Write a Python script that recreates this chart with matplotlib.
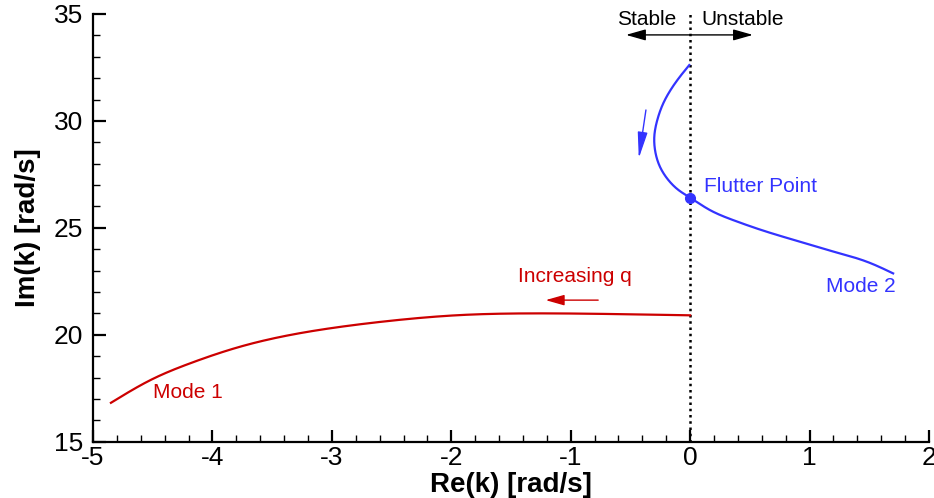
import matplotlib
matplotlib.use("Agg")
import matplotlib.pyplot as plt
from matplotlib.ticker import MultipleLocator
import numpy as np

# Mode 1 (red) root locus
mode1_re = [-4.85, -4.52, -4.19, -3.77, -3.35, -2.93, -2.55, -1.93, -1.34, -0.65, 0.0]
mode1_im = [16.82, 17.88, 18.66, 19.44, 19.99, 20.37, 20.63, 20.92, 21.00, 20.97, 20.91]

# Mode 2 (blue) root locus
mode2_re = [-0.007, -0.085, -0.155, -0.225, -0.275, -0.300, -0.294, -0.253, -0.183, -0.098,
            0.0, 0.166, 0.361, 0.64, 0.92, 1.20, 1.478, 1.70]
mode2_im = [32.61, 32.07, 31.52, 30.82, 30.04, 29.26, 28.64, 27.86, 27.24, 26.77,
            26.41, 25.83, 25.36, 24.82, 24.35, 23.89, 23.42, 22.87]

flutter_re, flutter_im = 0.0, 26.41

red = "#CC0000"
blue = "#3333FF"
plt.rcParams["font.family"] = ["Liberation Sans", "DejaVu Sans"]
plt.rcParams["axes.unicode_minus"] = False

fig = plt.figure(figsize=(9.34, 4.98), dpi=100)
ax = fig.add_axes([0.0996, 0.113, 0.895, 0.859])


def natural_spline(t, v, tt):
    t = np.asarray(t, float); v = np.asarray(v, float)
    n = len(t)
    h = np.diff(t)
    A = np.zeros((n, n)); b = np.zeros(n)
    A[0, 0] = 1; A[-1, -1] = 1
    for i in range(1, n - 1):
        A[i, i - 1] = h[i - 1]
        A[i, i] = 2 * (h[i - 1] + h[i])
        A[i, i + 1] = h[i]
        b[i] = 3 * ((v[i + 1] - v[i]) / h[i] - (v[i] - v[i - 1]) / h[i - 1])
    c = np.linalg.solve(A, b)
    out = np.empty_like(tt)
    for k, s in enumerate(tt):
        i = min(max(np.searchsorted(t, s, side="right") - 1, 0), n - 2)
        bi = (v[i + 1] - v[i]) / h[i] - h[i] * (2 * c[i] + c[i + 1]) / 3
        di = (c[i + 1] - c[i]) / (3 * h[i])
        d = s - t[i]
        out[k] = v[i] + bi * d + c[i] * d ** 2 + di * d ** 3
    return out


def smooth(xs, ys, n=400):
    xs = np.asarray(xs, float); ys = np.asarray(ys, float)
    d = np.sqrt((np.diff(xs) * 119.4) ** 2 + (np.diff(ys) * 21.4) ** 2)
    t = np.concatenate([[0], np.cumsum(d)])
    tt = np.linspace(0, t[-1], n)
    return natural_spline(t, xs, tt), natural_spline(t, ys, tt)


x1 = np.linspace(mode1_re[0], mode1_re[-1], 400)
y1 = natural_spline(mode1_re, mode1_im, x1)
x2, y2 = smooth(mode2_re, mode2_im)
ax.plot(x1, y1, color=red, lw=1.6)
ax.plot(x2, y2, color=blue, lw=1.6)
ax.plot([flutter_re], [flutter_im], "o", color=blue, ms=7)

ax.plot([0, 0], [15, 35], color="black", lw=1.8, ls=(0, (1, 1.5)), zorder=0)

ax.set_xlim(-5, 2)
ax.set_ylim(15, 35)
ax.xaxis.set_major_locator(MultipleLocator(1))
ax.xaxis.set_minor_locator(MultipleLocator(0.2))
ax.yaxis.set_major_locator(MultipleLocator(5))
ax.yaxis.set_minor_locator(MultipleLocator(1))
for s in ["top", "right"]:
    ax.spines[s].set_visible(False)
for s in ["left", "bottom"]:
    ax.spines[s].set_linewidth(1.6)
ax.tick_params(which="major", direction="in", length=9, width=1.6, labelsize=19)
ax.tick_params(which="minor", direction="in", length=5, width=1.0)
ax.tick_params(axis="x", which="major", pad=3)
ax.tick_params(axis="y", which="major", pad=7)

ax.set_xlabel("Re(k) [rad/s]", fontsize=20, fontweight="bold", va="top")
ax.set_ylabel("Im(k) [rad/s]", fontsize=20, fontweight="bold")
ax.xaxis.set_label_coords(0.5, -0.071)
ax.yaxis.set_label_coords(-0.062, 0.5)

ax.text(0.12, 26.95, "Flutter Point", color=blue, fontsize=15, ha="left", va="center")
ax.text(1.725, 22.25, "Mode 2", color=blue, fontsize=15, ha="right", va="center")
ax.text(-4.50, 17.29, "Mode 1", color=red, fontsize=15, ha="left", va="center")
ax.text(-1.44, 22.71, "Increasing q", color=red, fontsize=15, ha="left", va="center")
ax.text(-0.61, 34.49, "Stable", color="black", fontsize=15, ha="left", va="baseline")
ax.text(0.097, 34.49, "Unstable", color="black", fontsize=15, ha="left", va="baseline")

head = "-|>,head_length=0.6,head_width=0.17"
ax.annotate("", xy=(-0.537, 34.02), xytext=(0, 34.02),
            arrowprops=dict(arrowstyle=head, color="black", lw=1.0, mutation_scale=20, shrinkA=0, shrinkB=0))
ax.annotate("", xy=(0.526, 34.02), xytext=(0, 34.02),
            arrowprops=dict(arrowstyle=head, color="black", lw=1.0, mutation_scale=20, shrinkA=0, shrinkB=0))
ax.annotate("", xy=(-1.21, 21.62), xytext=(-0.77, 21.62),
            arrowprops=dict(arrowstyle=head, color=red, lw=1.0, mutation_scale=19, shrinkA=0, shrinkB=0))
ax.annotate("", xy=(-0.43, 28.25), xytext=(-0.37, 30.51),
            arrowprops=dict(arrowstyle="-|>,head_length=0.8,head_width=0.15", color=blue, lw=1.0,
                            mutation_scale=20, shrinkA=0, shrinkB=0))

fig.savefig("out.png", dpi=100)
